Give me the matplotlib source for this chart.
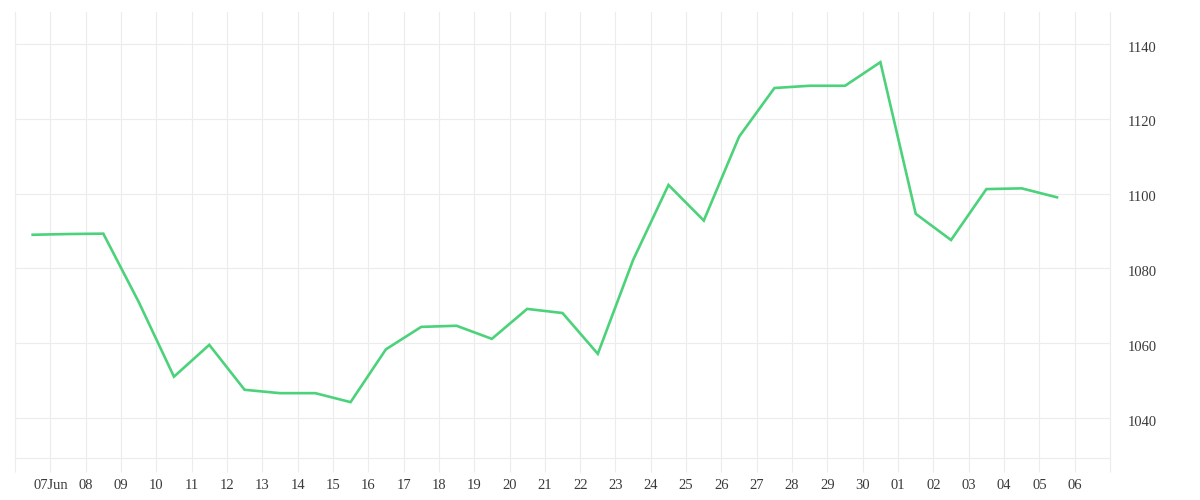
import numpy as np
import pandas as pd
import matplotlib
matplotlib.use("Agg")
import matplotlib.pyplot as plt
import matplotlib.transforms as mtransforms

# daily values, plotted at midday of each day
dates = pd.date_range("2024-06-06 12:00", periods=30, freq="D")
values = [1089.0, 1089.2, 1089.3, 1071.1, 1051.1, 1059.6, 1047.6, 1046.7, 1046.7, 1044.3,
          1058.4, 1064.4, 1064.7, 1061.2, 1069.2, 1068.1, 1057.2, 1082.3, 1102.3, 1092.8,
          1115.2, 1128.2, 1128.8, 1128.8, 1135.1, 1094.6, 1087.6, 1101.2, 1101.4, 1099.0]

# ticks at each midnight
tick_dates = pd.date_range("2024-06-06", "2024-07-07", freq="D")
tick_labels = ["", "07Jun", "08", "09", "10", "11", "12", "13", "14", "15", "16", "17",
               "18", "19", "20", "21", "22", "23", "24", "25", "26", "27", "28", "29",
               "30", "01", "02", "03", "04", "05", "06", ""]
y_ticks = [1040, 1060, 1080, 1100, 1120, 1140]

grid_col = "#ececec"
text_col = "#3a3a3a"

fig = plt.figure(figsize=(12, 5), dpi=100)
ax = fig.add_axes([0.0125, 0.0834, 0.9125, 0.8926])

ax.plot(dates, values, color="#4cd27a", linewidth=1.9, solid_joinstyle="miter")

ax.set_xlim(tick_dates[0], tick_dates[-1])
ax.set_ylim(1029.3, 1148.5)

ax.set_xticks(tick_dates)
ax.set_xticklabels(tick_labels)
ax.set_yticks(y_ticks)
ax.yaxis.tick_right()

ax.grid(True, color=grid_col, linewidth=0.8)
ax.set_axisbelow(True)

ax.tick_params(axis="x", length=10, width=0.8, color=grid_col, pad=5,
               labelsize=10.5, labelcolor=text_col)
ax.tick_params(axis="y", length=0, pad=12.5, labelsize=10.5, labelcolor=text_col)
for lbl in ax.get_xticklabels() + ax.get_yticklabels():
    lbl.set_fontfamily("Liberation Serif")

# y labels sit a little below their gridlines
offset = mtransforms.ScaledTranslation(0, -2 / 72, fig.dpi_scale_trans)
for lbl in ax.get_yticklabels():
    lbl.set_transform(lbl.get_transform() + offset)

ax.spines["top"].set_visible(False)
for s in ["left", "right", "bottom"]:
    ax.spines[s].set_color(grid_col)
    ax.spines[s].set_linewidth(0.8)

plt.savefig("out.png", dpi=100)
plt.close()
